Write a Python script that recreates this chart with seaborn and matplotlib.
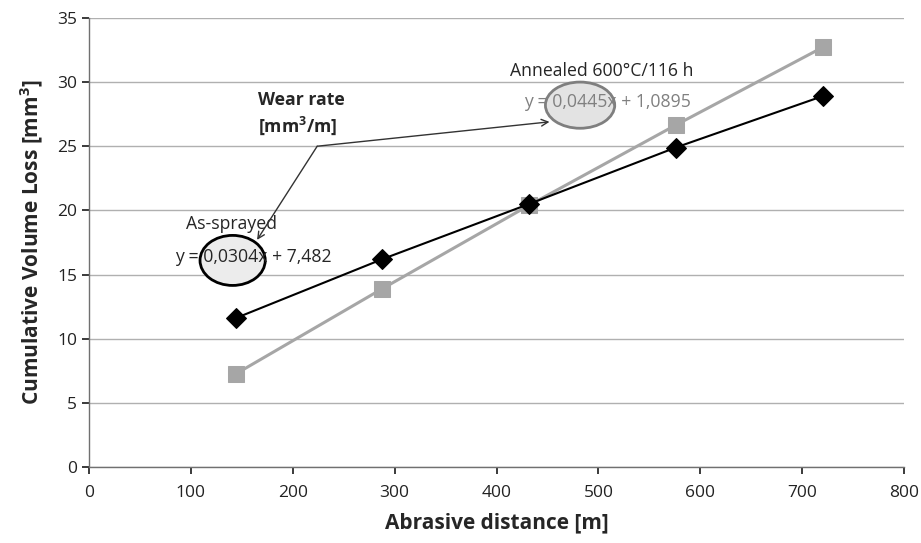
import matplotlib
matplotlib.use("Agg")
import matplotlib.pyplot as plt
import seaborn as sns
import pandas as pd
from matplotlib.patches import Ellipse

distance = [144, 288, 432, 576, 720]
as_sprayed = [11.6, 16.2, 20.5, 24.9, 28.9]
annealed = [7.25, 13.9, 20.4, 26.65, 32.7]
x_ticks = [0, 100, 200, 300, 400, 500, 600, 700, 800]
y_ticks = [0, 5, 10, 15, 20, 25, 30, 35]

sns.set_theme(style="white")
plt.rcParams['font.family'] = ['Open Sans', 'DejaVu Sans']

df = pd.DataFrame({
    "distance": distance * 2,
    "loss": as_sprayed + annealed,
    "series": ["As-sprayed"] * 5 + ["Annealed"] * 5,
})

fig = plt.figure(figsize=(9.21, 5.43), dpi=100)
ax = fig.add_axes([0.0966, 0.140, 0.885, 0.827])

sns.lineplot(data=df[df.series == "Annealed"], x="distance", y="loss", ax=ax,
             color="#a6a6a6", linewidth=2.2, marker="s", markersize=11,
             markeredgecolor="#a6a6a6", zorder=3)
sns.lineplot(data=df[df.series == "As-sprayed"], x="distance", y="loss", ax=ax,
             color="black", linewidth=1.5, marker="D", markersize=10,
             markeredgecolor="black", zorder=4)

ax.set_xlim(0, 800)
ax.set_ylim(0, 35)
ax.set_xticks(x_ticks)
ax.set_yticks(y_ticks)
ax.tick_params(axis="both", labelsize=12.5, colors="#222222", length=5, direction="out",
               bottom=True, left=True)
ax.tick_params(axis="x", pad=8)
ax.yaxis.grid(True, color="#b0b0b0", linewidth=1)
ax.set_axisbelow(True)
for s in ["top", "right"]:
    ax.spines[s].set_visible(False)
for s in ["left", "bottom"]:
    ax.spines[s].set_color("#707070")
    ax.spines[s].set_linewidth(1)
ax.set_xlabel("Abrasive distance [m]", fontsize=15, fontweight="bold", labelpad=8)
ax.set_ylabel("Cumulative Volume Loss [mm$^\\mathregular{3}$]", fontsize=15, fontweight="bold", labelpad=8)

# ellipses
ax.add_patch(Ellipse((141, 16.1), 64, 3.9, facecolor="#ececec", edgecolor="black",
                     linewidth=2, zorder=5))
ax.add_patch(Ellipse((482, 28.2), 68, 3.6, facecolor="#e3e3e3", edgecolor="#7f7f7f",
                     linewidth=2, zorder=5))

# texts
fs = 12.7
ax.text(140, 18.9, "As-sprayed", fontsize=fs, ha="center", va="center", zorder=6)
ax.text(161, 16.4, "y = 0,0304x + 7,482", fontsize=fs, ha="center", va="center", zorder=6)
ax.text(503, 30.9, "Annealed 600°C/116 h", fontsize=fs, ha="center", va="center", zorder=6)
ax.text(509, 28.45, "y = 0,0445x + 1,0895", fontsize=fs, ha="center", va="center",
        color="#808080", zorder=6)
ax.text(166, 27.5, "Wear rate\n[mm$^\\mathregular{3}$/m]", fontsize=fs, fontweight="bold",
        ha="left", va="center", linespacing=1.3, zorder=6)

# arrows
ax.annotate("", xy=(165, 17.7), xytext=(224, 25.0),
            arrowprops=dict(arrowstyle="->", color="#333333", lw=1, shrinkA=0, shrinkB=0), zorder=7)
ax.annotate("", xy=(452, 26.9), xytext=(224, 25.0),
            arrowprops=dict(arrowstyle="->", color="#333333", lw=1, shrinkA=0, shrinkB=0), zorder=7)

fig.savefig("out.png", dpi=100)
